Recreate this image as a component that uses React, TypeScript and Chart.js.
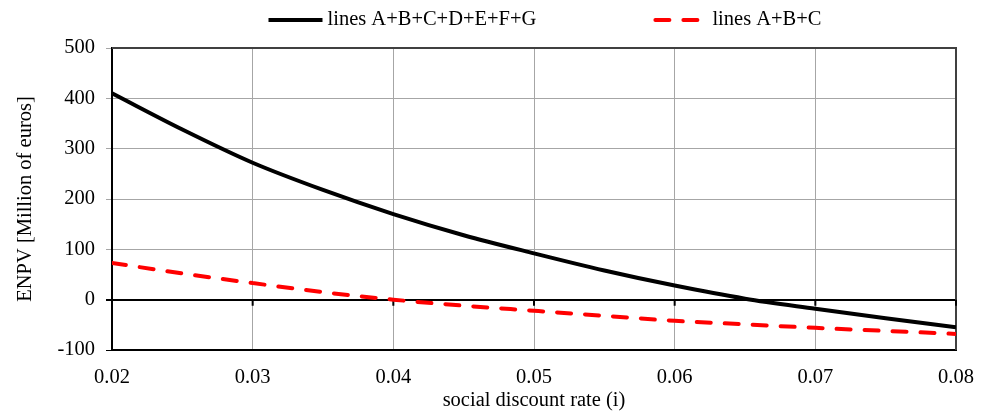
import React, { useEffect, useRef } from "react";
import { Chart, registerables } from "chart.js";

Chart.register(...registerables);

// ---- data ----
const discountRates = [0.02, 0.025, 0.03, 0.035, 0.04, 0.045, 0.05, 0.055, 0.06, 0.065, 0.07, 0.075, 0.08];
const enpvAllLines = [410, 338, 272, 218, 170, 128, 92, 58, 28, 2, -18, -37, -55];
const enpvLinesABC = [73, 52, 33, 15, 0, -12, -22, -32, -42, -49, -56, -62, -68];
const seriesLabels = ["lines A+B+C+D+E+F+G", "lines A+B+C"];
const xTickValues = [0.02, 0.03, 0.04, 0.05, 0.06, 0.07, 0.08];
const yTickValues = [-100, 0, 100, 200, 300, 400, 500];
const xTitle = "social discount rate (i)";
const yTitle = "ENPV [Million of euros]";

const FONT = '"Liberation Serif", "Times New Roman", serif';
const GRID = "#a6a6a6";

const framePlugin = {
  id: "frame",
  beforeDatasetsDraw(chart: any) {
    const { ctx, chartArea: a, scales } = chart;
    ctx.save();
    ctx.strokeStyle = "#404040";
    ctx.lineWidth = 2;
    ctx.beginPath();
    ctx.moveTo(a.left, a.top);
    ctx.lineTo(a.right, a.top);
    ctx.lineTo(a.right, a.bottom);
    ctx.stroke();
    const y0 = scales.y.getPixelForValue(0);
    ctx.strokeStyle = "#000";
    ctx.lineWidth = 2;
    ctx.beginPath();
    scales.x.ticks.forEach((t: any) => {
      const x = scales.x.getPixelForValue(t.value);
      ctx.moveTo(x, y0);
      ctx.lineTo(x, y0 + 6);
    });
    ctx.stroke();
    ctx.restore();
  },
};

const legendPlugin = {
  id: "customLegend",
  afterDraw(chart: any) {
    const { ctx, chartArea: a } = chart;
    const ds = chart.data.datasets;
    ctx.save();
    ctx.font = `20.5px ${FONT}`;
    const sample = 54;
    const gapText = 5;
    const gapItem = 117;
    const widths = ds.map((d: any) => sample + gapText + ctx.measureText(d.label).width);
    const total = widths.reduce((s: number, w: number) => s + w, 0) + gapItem * (ds.length - 1);
    let x = (a.left + a.right) / 2 + 11 - total / 2;
    const y = 20;
    ds.forEach((d: any, i: number) => {
      ctx.beginPath();
      ctx.strokeStyle = d.borderColor;
      ctx.lineWidth = d.borderWidth;
      ctx.setLineDash(d.borderDash || []);
      ctx.lineCap = d.borderCapStyle || "butt";
      ctx.moveTo(x + (d.borderDash ? 2 : 0), y);
      ctx.lineTo(x + sample, y);
      ctx.stroke();
      ctx.setLineDash([]);
      ctx.fillStyle = "#000";
      ctx.textBaseline = "middle";
      ctx.textAlign = "left";
      ctx.fillText(d.label, x + sample + gapText, y);
      x += widths[i] + gapItem;
    });
    ctx.restore();
  },
};

export default function App() {
  const ref = useRef<HTMLCanvasElement | null>(null);

  useEffect(() => {
    if (!ref.current) return;
    Chart.defaults.font.family = FONT;
    Chart.defaults.color = "#000";
    const chart = new Chart(ref.current, {
      type: "line",
      data: {
        datasets: [
          {
            label: seriesLabels[0],
            data: discountRates.map((x, i) => ({ x, y: enpvAllLines[i] })),
            borderColor: "#000000",
            borderWidth: 4,
            pointRadius: 0,
            cubicInterpolationMode: "monotone",
            fill: false,
          },
          {
            label: seriesLabels[1],
            data: discountRates.map((x, i) => ({ x, y: enpvLinesABC[i] })),
            borderColor: "#ff0000",
            borderWidth: 4,
            borderDash: [14, 14],
            borderCapStyle: "round",
            pointRadius: 0,
            cubicInterpolationMode: "monotone",
            fill: false,
          },
        ],
      },
      options: {
        animation: false,
        responsive: false,
        events: [],
        layout: { padding: { top: 48, right: 30, left: 0, bottom: 0 } },
        plugins: {
          legend: { display: false },
          tooltip: { enabled: false },
        },
        scales: {
          x: {
            type: "linear",
            min: 0.02,
            max: 0.08,
            afterBuildTicks: (s: any) => {
              s.ticks = xTickValues.map((v) => ({ value: v }));
            },
            afterFit: (s: any) => {
              s.height = 62;
              s.paddingLeft = 0;
              s.paddingRight = 0;
            },
            ticks: {
              autoSkip: false,
              maxRotation: 0,
              padding: 15,
              color: "#000",
              font: { size: 20.5, family: FONT },
              callback: (v: any) => Number(v).toFixed(2),
            },
            grid: { color: GRID, lineWidth: 1, drawTicks: false },
            border: { display: true, color: "#000", width: 2 },
            title: {
              display: true,
              text: xTitle,
              color: "#000",
              font: { size: 20.5, family: FONT },
              padding: { top: 0, bottom: -1 },
            },
          },
          y: {
            type: "linear",
            min: -100,
            max: 500,
            afterBuildTicks: (s: any) => {
              s.ticks = yTickValues.map((v) => ({ value: v }));
            },
            afterFit: (s: any) => {
              s.width = 112;
              s.paddingTop = 0;
              s.paddingBottom = 0;
            },
            ticks: {
              padding: 11,
              color: "#000",
              font: { size: 20.5, family: FONT },
            },
            grid: {
              color: (c: any) => (c.tick && c.tick.value === 0 ? "#000" : c.tick && c.tick.value === -100 ? "#000" : GRID),
              lineWidth: (c: any) => (c.tick && c.tick.value === 0 ? 2 : 1),
              tickLength: 6,
            },
            border: { display: true, color: "#000", width: 2 },
            title: {
              display: true,
              text: yTitle,
              color: "#000",
              font: { size: 20.5, family: FONT },
              padding: { top: 13, bottom: 0 },
            },
          },
        },
      },
      plugins: [framePlugin, legendPlugin],
    } as any);
    return () => chart.destroy();
  }, []);

  return (
    <div style={{ position: "fixed", left: 0, top: 0, width: 986, height: 412, background: "#fff" }}>
      <canvas ref={ref} width={986} height={412} style={{ display: "block" }} />
    </div>
  );
}
